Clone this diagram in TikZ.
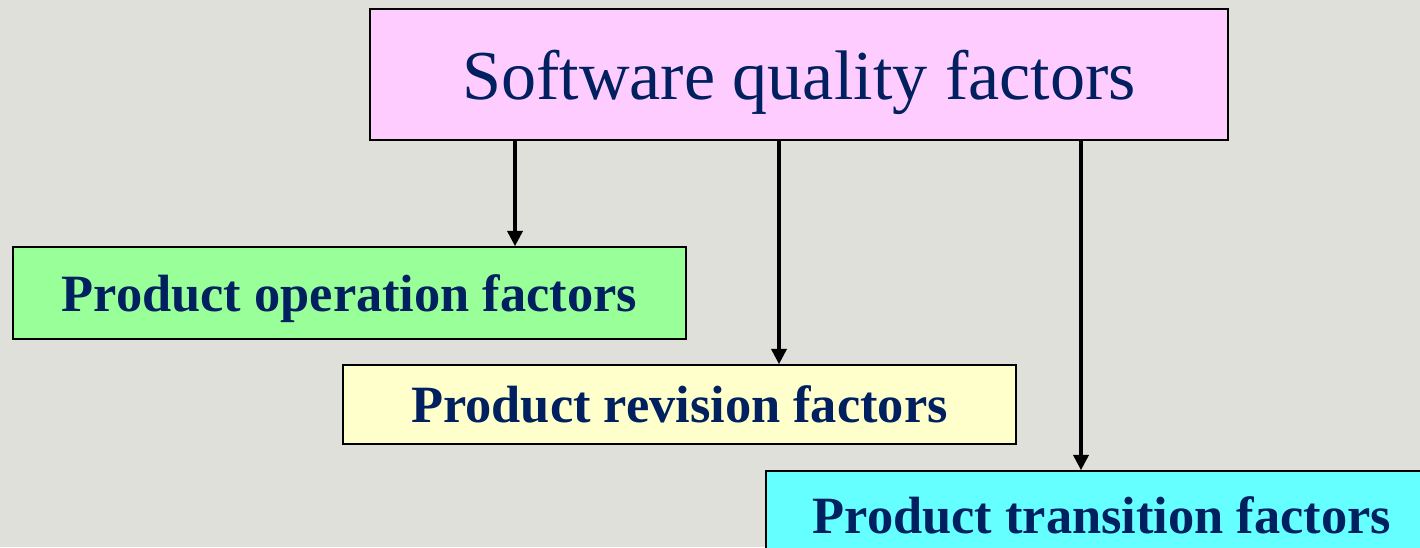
\documentclass[tikz,border=0pt]{standalone}
\usepackage{fontspec}
\setmainfont{Liberation Serif}
\usetikzlibrary{arrows.meta}
\definecolor{bgray}{RGB}{224,224,218}
\definecolor{navy}{RGB}{0,32,96}
\definecolor{pinkfill}{RGB}{255,204,255}
\definecolor{greenfill}{RGB}{153,255,153}
\definecolor{yellowfill}{RGB}{255,255,204}
\definecolor{cyanfill}{RGB}{102,255,255}
\tikzset{
  box/.style={draw=black, line width=1.3pt, rectangle, inner sep=0pt,
    text=navy, align=center, text depth=0pt},
  headbox/.style={box, fill=pinkfill, font=\fontsize{52.6}{60}\selectfont},
  factorbox/.style={box, font=\fontsize{39.3}{46}\selectfont\bfseries},
  arr/.style={line width=2.3pt, -{Triangle[width=11.5pt,length=11.5pt]}}
}
\begin{document}
\begin{tikzpicture}[x=0.75pt,y=-0.75pt]
  \useasboundingbox (0,0) rectangle (1420,547);
  \clip (0,0) rectangle (1420,547);
  \fill[bgray] (0,0) rectangle (1420,547);

  \node[headbox, minimum width=858*0.75pt, minimum height=131*0.75pt]
    (top) at (799,74.5) {Software quality factors};
  \node[factorbox, fill=greenfill, minimum width=673*0.75pt, minimum height=92*0.75pt]
    (oper) at (349.5,293) {Product operation factors};
  \node[factorbox, fill=yellowfill, minimum width=673*0.75pt, minimum height=79*0.75pt]
    (revi) at (679.5,404.5) {Product revision factors};
  \node[factorbox, fill=cyanfill, minimum width=672*0.75pt, minimum height=88*0.75pt]
    (tran) at (1102,515) {Product transition factors};

  % arrow entry points on the factor boxes
  \coordinate (operin) at ([xshift=165.5*0.75pt]oper.north);
  \coordinate (reviin) at ([xshift=99.5*0.75pt]revi.north);
  \coordinate (tranin) at ([xshift=-21*0.75pt]tran.north);

  \draw[arr] (operin |- top.south) -- (operin);
  \draw[arr] (reviin |- top.south) -- (reviin);
  \draw[arr] (tranin |- top.south) -- (tranin);
\end{tikzpicture}
\end{document}
